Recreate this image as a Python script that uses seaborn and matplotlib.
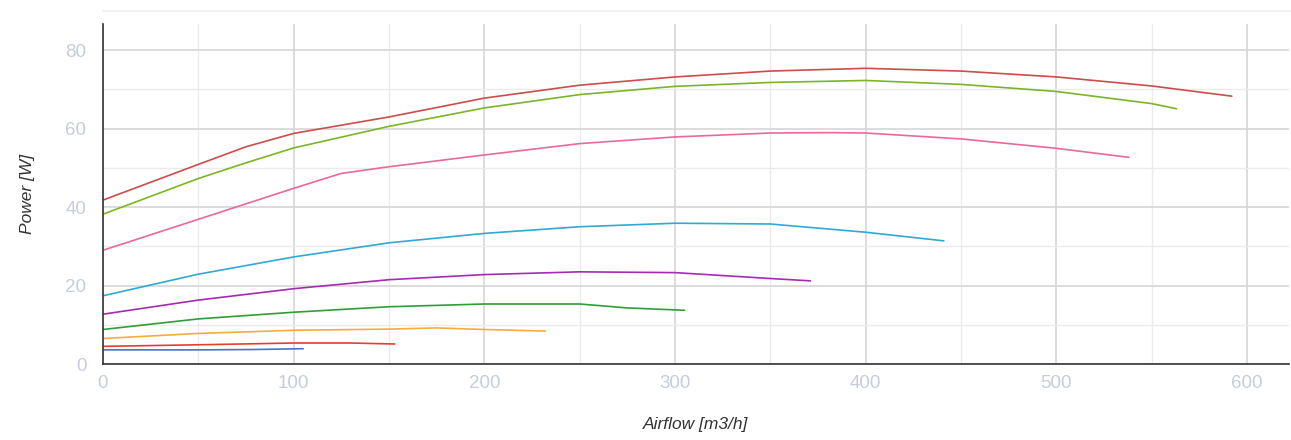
import numpy as np
import pandas as pd
import seaborn as sns
import matplotlib.pyplot as plt
from matplotlib.ticker import MultipleLocator
from matplotlib.lines import Line2D

sns.set_style("white")
plt.rcParams["font.family"] = ["Liberation Sans", "DejaVu Sans"]

# fan curves: airflow [m3/h] -> power [W]
s1_x = [0, 50, 75, 100, 150, 175, 200, 250, 300, 350, 400, 450, 500, 550, 592]
s1_y = [41.8, 50.9, 55.4, 58.8, 63.0, 65.4, 67.8, 71.1, 73.2, 74.7, 75.4, 74.7, 73.2, 70.9, 68.3]

s2_x = [0, 50, 75, 100, 150, 200, 250, 300, 350, 400, 450, 500, 550, 563]
s2_y = [38.2, 47.3, 51.3, 55.1, 60.6, 65.3, 68.7, 70.8, 71.8, 72.3, 71.3, 69.5, 66.4, 65.1]

s3_x = [0, 50, 100, 125, 150, 200, 250, 300, 350, 380, 400, 450, 500, 538]
s3_y = [29.0, 36.9, 44.8, 48.6, 50.3, 53.3, 56.2, 57.9, 58.9, 59.0, 58.9, 57.4, 55.0, 52.7]

s4_x = [0, 50, 100, 150, 200, 250, 300, 350, 400, 441]
s4_y = [17.4, 22.9, 27.3, 30.9, 33.3, 35.0, 35.9, 35.7, 33.6, 31.4]

s5_x = [0, 50, 100, 150, 200, 250, 300, 350, 371]
s5_y = [12.7, 16.3, 19.2, 21.5, 22.8, 23.5, 23.3, 21.8, 21.2]

s6_x = [0, 50, 100, 150, 200, 250, 275, 305]
s6_y = [8.8, 11.5, 13.2, 14.6, 15.3, 15.3, 14.3, 13.7]

s7_x = [0, 50, 100, 150, 175, 200, 232]
s7_y = [6.5, 7.8, 8.6, 8.9, 9.2, 8.8, 8.4]

s8_x = [0, 50, 100, 130, 153]
s8_y = [4.5, 4.9, 5.35, 5.35, 5.1]

s9_x = [0, 50, 80, 105]
s9_y = [3.6, 3.6, 3.7, 3.9]

series_x = [s1_x, s2_x, s3_x, s4_x, s5_x, s6_x, s7_x, s8_x, s9_x]
series_y = [s1_y, s2_y, s3_y, s4_y, s5_y, s6_y, s7_y, s8_y, s9_y]
colors = ["#cc4d4a", "#7cb526", "#e8699a", "#2eaad4", "#a52bb0",
          "#2f9e36", "#f9ab3c", "#e2402f", "#4673cc"]

frames = []
for i, (xs, ys) in enumerate(zip(series_x, series_y)):
    frames.append(pd.DataFrame({"airflow": xs, "power": ys, "curve": f"c{i}"}))
df = pd.concat(frames, ignore_index=True)

fig = plt.figure(figsize=(12.91, 4.40), dpi=100)
ax = fig.add_axes([103 / 1291, 76 / 440, 1186 / 1291, 340 / 440])

sns.lineplot(data=df, x="airflow", y="power", hue="curve",
             palette=colors, estimator=None, sort=False,
             linewidth=1.2, legend=False, ax=ax)

ax.set_xlim(0, 622)
ax.set_ylim(0, 86.7)
ax.xaxis.set_major_locator(MultipleLocator(100))
ax.xaxis.set_minor_locator(MultipleLocator(50))
ax.yaxis.set_major_locator(MultipleLocator(20))
ax.yaxis.set_minor_locator(MultipleLocator(10))
ax.grid(which="major", color="#d6d6d6", linewidth=1.2)
ax.grid(which="minor", color="#ebebeb", linewidth=1.0)
ax.set_axisbelow(True)

for side in ["top", "right"]:
    ax.spines[side].set_visible(False)
for side in ["left", "bottom"]:
    ax.spines[side].set_color("#333333")
    ax.spines[side].set_linewidth(1.2)

ax.tick_params(axis="both", which="both", length=0, labelsize=13.5,
               labelcolor="#c5ccdb")
ax.tick_params(axis="x", pad=8)
ax.tick_params(axis="y", pad=12)

ax.set_xlabel("Airflow [m3/h]", fontsize=12.5, style="italic",
              color="#333333", labelpad=18)
ax.set_ylabel("Power [W]", fontsize=12.5, style="italic",
              color="#333333", labelpad=22)

fig.add_artist(Line2D([103 / 1291, 1.0], [1 - 11 / 440, 1 - 11 / 440],
                      color="#f0f0f0", linewidth=1.5))

fig.savefig("out.png", dpi=100)
